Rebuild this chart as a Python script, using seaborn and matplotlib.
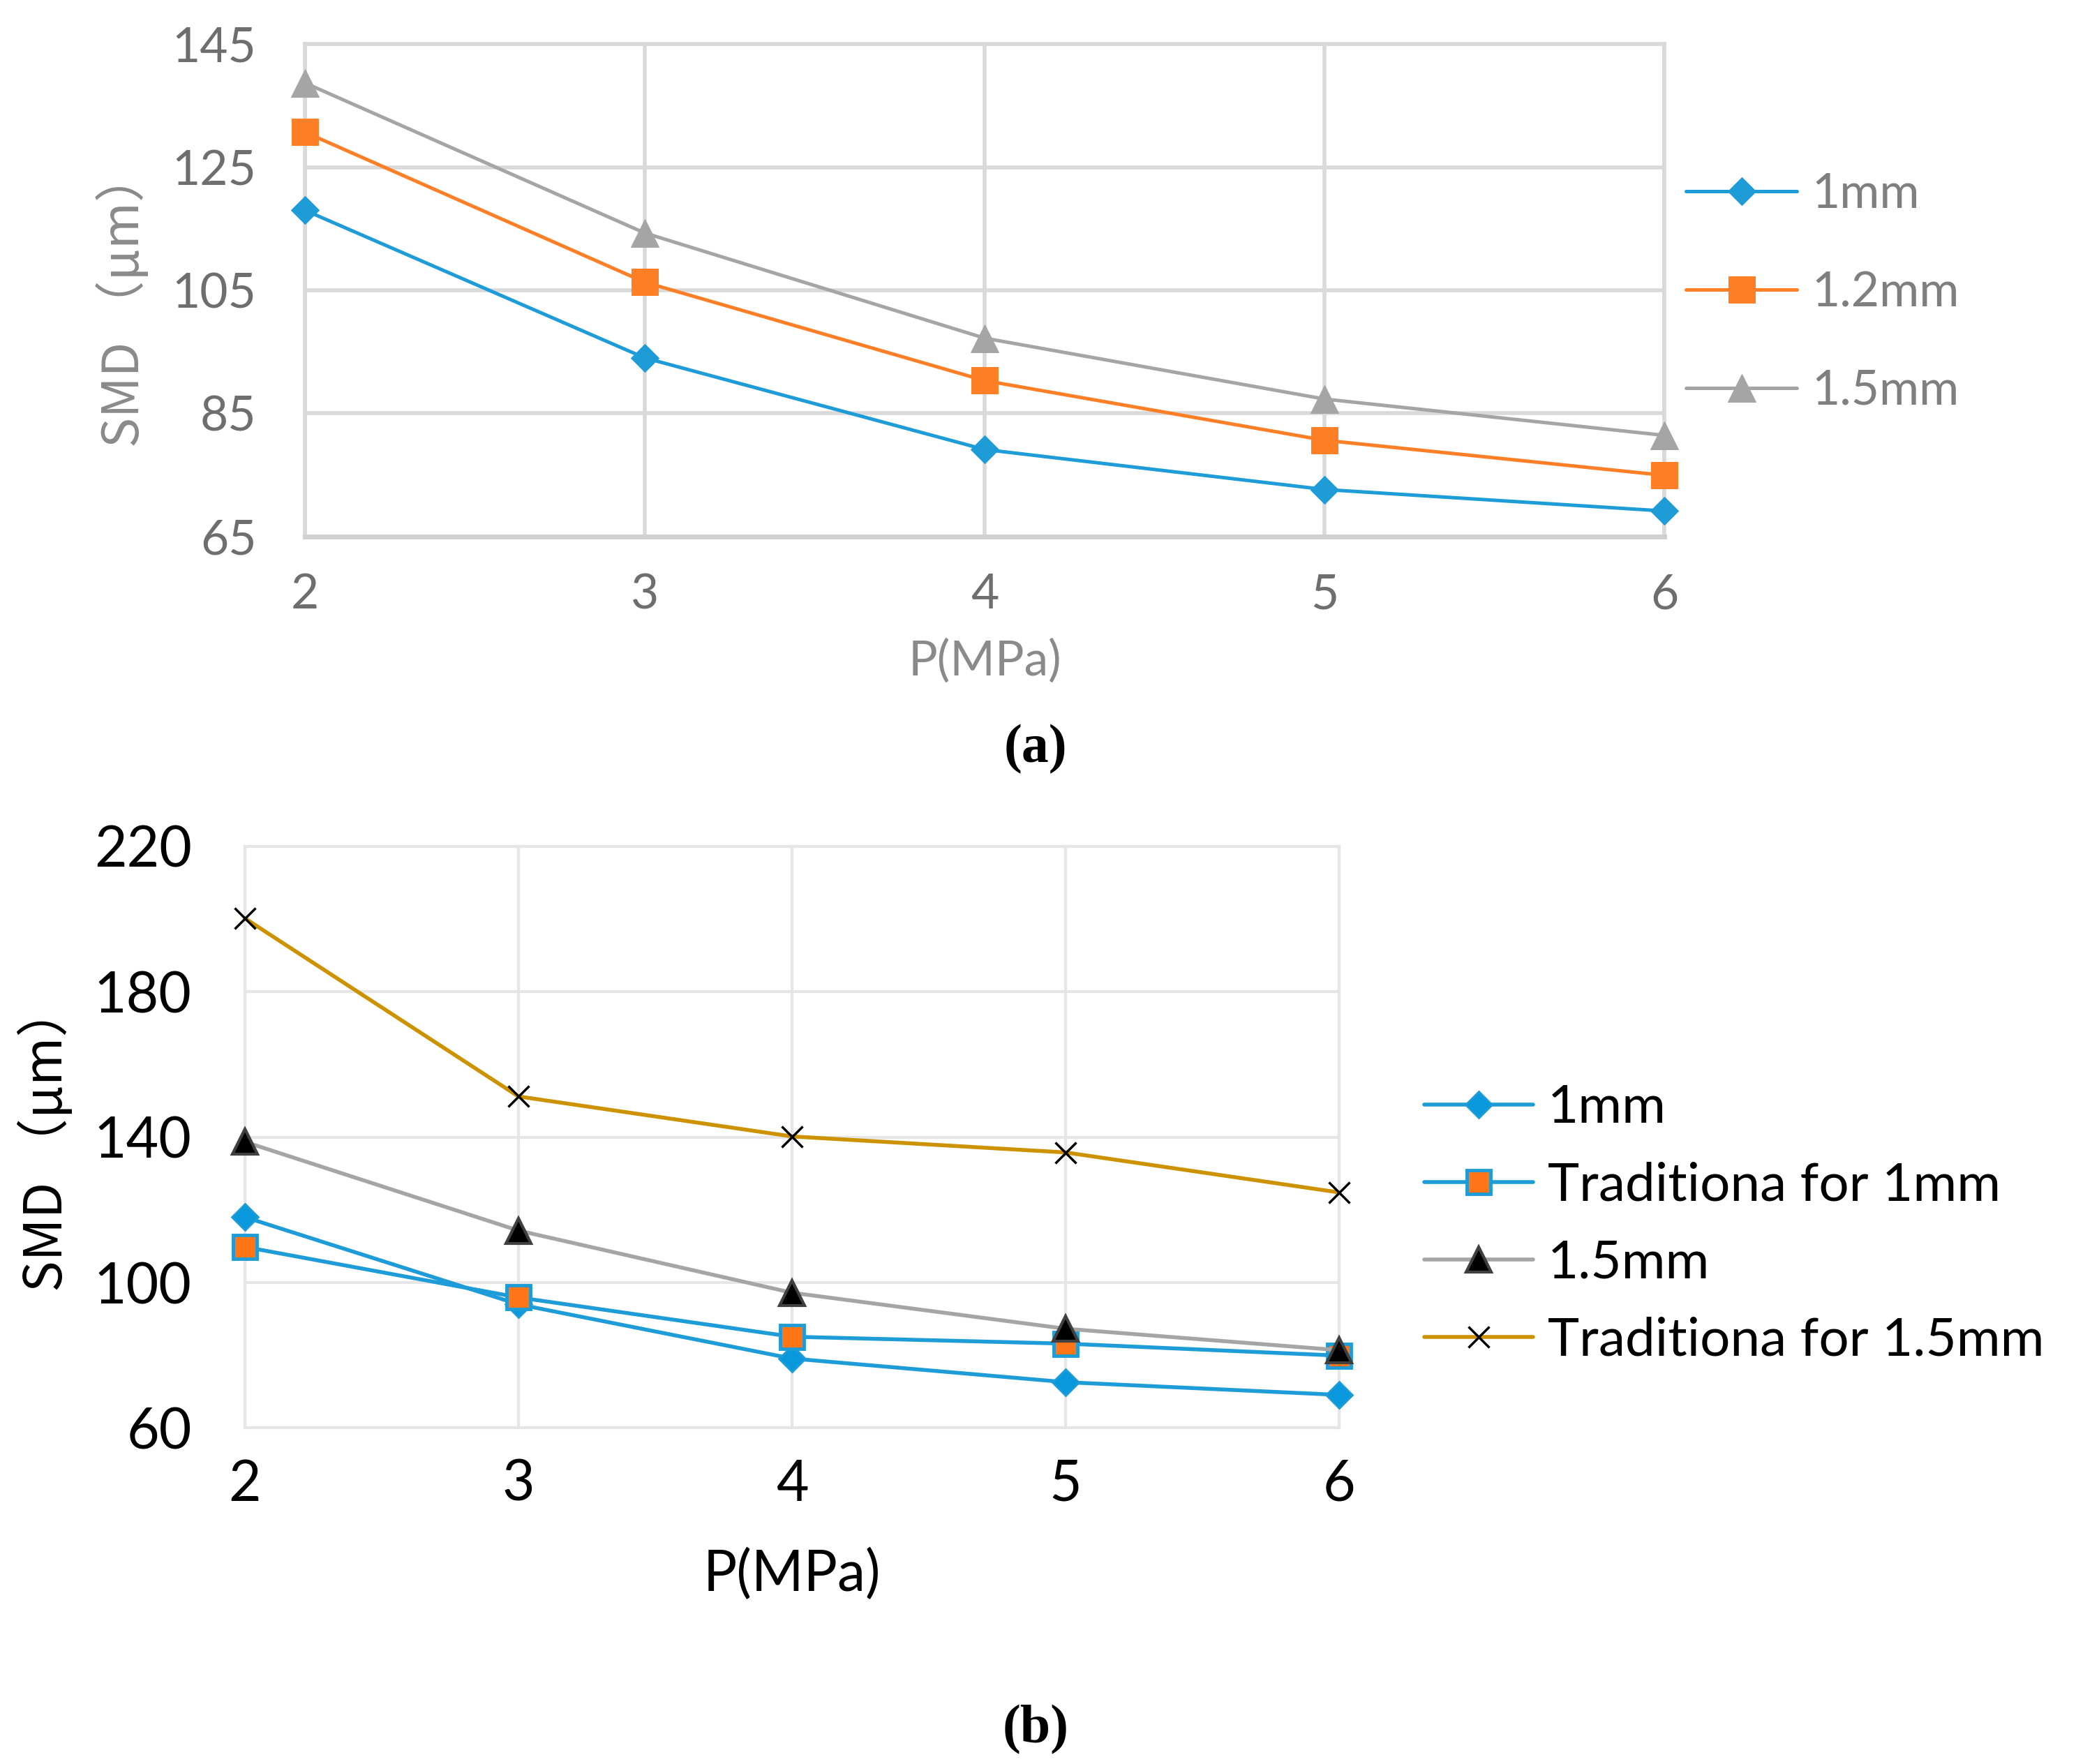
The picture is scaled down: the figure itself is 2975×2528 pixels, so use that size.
import pandas as pd
import matplotlib
matplotlib.use('Agg')
import matplotlib.pyplot as plt
import seaborn as sns

# Values
pressure = [2, 3, 4, 5, 6]

# panel (a)
smd_1mm = [118.0, 94.0, 79.1, 72.6, 69.1]
smd_12mm = [130.7, 106.3, 90.3, 80.6, 74.9]
smd_15mm = [138.7, 114.3, 97.2, 87.3, 81.4]

# panel (b)
smd_trad_1mm = [109.8, 95.9, 85.1, 83.2, 79.9]
smd_trad_15mm = [200.2, 151.2, 140.2, 135.8, 124.8]

labels_a = ['1mm', '1.2mm', '1.5mm']
labels_b = ['1mm', 'Traditiona for 1mm', '1.5mm', 'Traditiona for 1.5mm']

yticks_a = [65, 85, 105, 125, 145]
yticks_b = [60, 100, 140, 180, 220]

sns.set_style('white')
plt.rcParams['font.family'] = ['Lato', 'Noto Sans CJK SC', 'DejaVu Sans']

BLUE = '#1E9CD7'
ORANGE = '#FF7F27'
GRAY = '#A5A5A5'
GOLD = '#CC9200'

fig = plt.figure(figsize=(29.75, 25.28), dpi=100)

# ---------------- panel (a) ----------------
ax1 = fig.add_axes([0.1468, 0.696, 0.655, 0.279])
df_a = pd.DataFrame({'P': pressure, labels_a[0]: smd_1mm,
                     labels_a[1]: smd_12mm, labels_a[2]: smd_15mm})
styles_a = [(BLUE, 'D', 20), (ORANGE, 's', 27), (GRAY, '^', 29)]
for lab, (col, mk, ms) in zip(labels_a, styles_a):
    sns.lineplot(data=df_a, x='P', y=lab, ax=ax1, color=col, marker=mk,
                 markersize=ms, markeredgecolor=col, linewidth=3.6,
                 label=lab, errorbar=None, clip_on=False, zorder=5)

ax1.set_xlim(2, 6)
ax1.set_ylim(65, 145)
ax1.set_xticks(pressure)
ax1.set_yticks(yticks_a)
ax1.grid(True, color='#D9D9D9', linewidth=4)
for s in ax1.spines.values():
    s.set_color('#D9D9D9')
    s.set_linewidth(4)
ax1.spines['bottom'].set_color('#D0D0D0')
ax1.spines['bottom'].set_linewidth(5)
ax1.tick_params(axis='both', length=0, labelsize=50, labelcolor='#6E6E6E')
ax1.tick_params(axis='x', pad=38)
ax1.tick_params(axis='y', pad=50)
ax1.set_xlabel('')
ax1.set_ylabel('')
ax1.legend(loc='center left', bbox_to_anchor=(0.812, 0.834),
           bbox_transform=fig.transFigure, frameon=False, fontsize=50,
           labelcolor='#7F7F7F', handlelength=2.3, handletextpad=0.3,
           labelspacing=1.12, borderpad=0, borderaxespad=0)

fig.text(0.5 * (229 + 1251) / 1560, 1 - 497 / 1325.6, 'P(MPa)', ha='center',
         va='center', fontsize=50, color='#8A8A8A')
fig.text(93 / 1560, 1 - 225 / 1325.6, 'SMD （μm）', rotation=90, ha='center',
         va='center', fontsize=52, color='#8A8A8A',
         family=['Noto Sans CJK SC', 'DejaVu Sans'])
fig.text(778 / 1560, 1 - 563 / 1325.6, '(a)', ha='center', va='center',
         fontsize=56, fontweight='bold', family='Liberation Serif', color='black')

# ---------------- panel (b) ----------------
ax2 = fig.add_axes([0.118, 0.1905, 0.527, 0.3297])
df_b = pd.DataFrame({'P': pressure, labels_b[0]: smd_1mm,
                     labels_b[1]: smd_trad_1mm, labels_b[2]: smd_15mm,
                     labels_b[3]: smd_trad_15mm})
styles_b = [
    dict(color=BLUE, marker='D', markersize=19, markerfacecolor='#0A98DC',
         markeredgecolor=BLUE, markeredgewidth=2),
    dict(color=BLUE, marker='s', markersize=24, markerfacecolor='#FF7518',
         markeredgecolor=BLUE, markeredgewidth=3.5),
    dict(color=GRAY, marker='^', markersize=26, markerfacecolor='black',
         markeredgecolor='#404040', markeredgewidth=3),
    dict(color=GOLD, marker='x', markersize=22, markeredgecolor='black',
         markeredgewidth=2.5),
]
for lab, st in zip(labels_b, styles_b):
    sns.lineplot(data=df_b, x='P', y=lab, ax=ax2, linewidth=4, label=lab,
                 errorbar=None, clip_on=False, zorder=5, **st)

ax2.set_xlim(2, 6)
ax2.set_ylim(60, 220)
ax2.set_xticks(pressure)
ax2.set_yticks(yticks_b)
ax2.grid(True, color='#E6E6E6', linewidth=3)
for s in ax2.spines.values():
    s.set_color('#E6E6E6')
    s.set_linewidth(3)
ax2.tick_params(axis='both', length=0, labelsize=58, labelcolor='black')
ax2.tick_params(axis='x', pad=32)
ax2.tick_params(axis='y', pad=55)
ax2.set_xlabel('')
ax2.set_ylabel('')
ax2.legend(loc='center left', bbox_to_anchor=(0.686, 0.306),
           bbox_transform=fig.transFigure, frameon=False, fontsize=55,
           labelcolor='black', handlelength=2.05, handletextpad=0.27,
           labelspacing=0.55, borderpad=0, borderaxespad=0)

fig.text(0.5 * (184 + 1006) / 1560, 1 - 1183 / 1325.6, 'P(MPa)', ha='center',
         va='center', fontsize=58, color='black')
fig.text(35 / 1560, 1 - 855 / 1325.6, 'SMD （μm）', rotation=90, ha='center',
         va='center', fontsize=54, color='black',
         family=['Noto Sans CJK SC', 'DejaVu Sans'])
fig.text(778 / 1560, 1 - 1300 / 1325.6, '(b)', ha='center', va='center',
         fontsize=56, fontweight='bold', family='Liberation Serif', color='black')

fig.savefig('out.png', dpi=100, facecolor='white')
